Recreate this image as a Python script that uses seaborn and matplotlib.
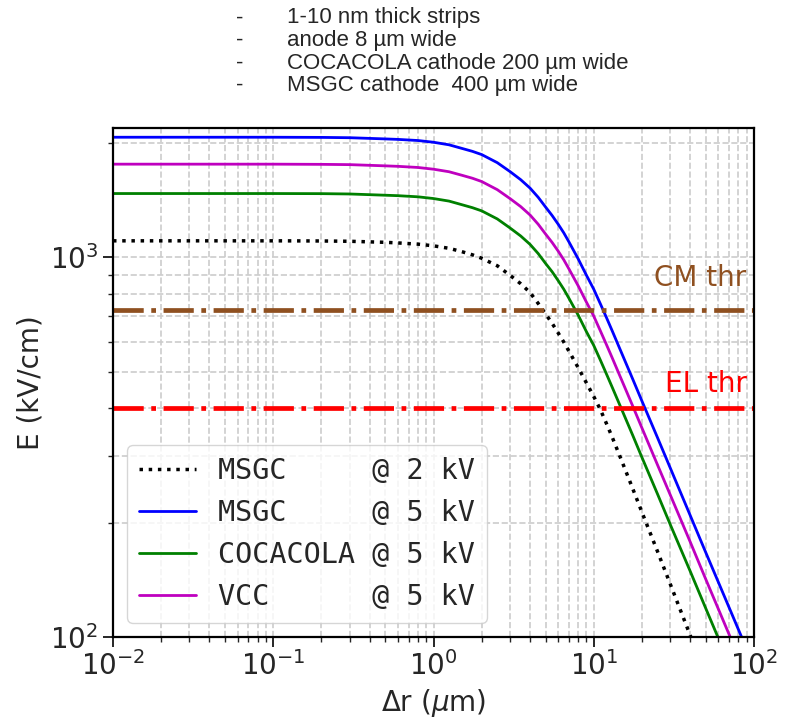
import matplotlib
matplotlib.use("Agg")
import matplotlib.pyplot as plt
import seaborn as sns
import pandas as pd

# ---- data ----
dr_um = [0.01, 0.1, 0.2, 0.3, 0.5, 0.6, 0.8, 1, 1.25, 1.5, 1.75, 2, 2.5, 3, 3.5, 4, 4.5, 5,
         5.5, 6, 6.5, 7, 8, 9, 10, 11, 12, 13, 15, 17.5, 20, 25, 30, 40, 50, 70, 100]
E_msgc_2kv = [1105, 1105, 1104, 1102, 1095, 1091, 1083, 1072, 1056, 1035, 1015, 994, 950, 897, 852,
              808, 756, 710, 670, 632, 598, 566, 512, 467, 430, 397, 365, 337, 290, 246, 213, 168,
              138, 101, 80, 56, 38]
E_msgc_5kv = [2071, 2071, 2069, 2065, 2050, 2044, 2030, 2009, 1978, 1936, 1901, 1864, 1775, 1682,
              1601, 1522, 1439, 1357, 1288, 1222, 1160, 1098, 990, 897, 824, 754, 694, 642, 557,
              478, 418, 335, 279, 209, 167, 119.5, 83.7]
E_cocacola_5kv = [1472, 1472, 1471, 1468, 1457, 1453, 1443, 1428, 1406, 1376, 1351, 1325, 1262,
                  1195, 1138, 1082, 1023, 964, 916, 868, 824, 780, 704, 637, 586, 536, 493, 456,
                  396, 340, 297, 238, 198, 149, 119, 85, 59.5]
E_vcc_5kv = [1759, 1759, 1757, 1754, 1741, 1736, 1724, 1706, 1680, 1645, 1615, 1583, 1507, 1428,
             1360, 1293, 1222, 1152, 1094, 1038, 985, 932, 841, 762, 700, 640, 589, 545, 473, 406,
             355, 284, 237, 178, 142, 101.5, 71]

series_labels = ["MSGC     @ 2 kV", "MSGC     @ 5 kV", "COCACOLA @ 5 kV", "VCC      @ 5 kV"]
series_colors = ["black", "b", "g", "m"]
series_styles = [":", "-", "-", "-"]
series_widths = [2.5, 2.0, 2.0, 2.0]

CM_thr = 725
EL_thr = 400
thr_labels = ["CM thr", "EL thr"]

notes = ["1-10 nm thick strips", "anode 8 µm wide",
         "COCACOLA cathode 200 µm wide", "MSGC cathode  400 µm wide"]

# ---- figure ----
sns.set_style("white")
plt.rcParams['font.family'] = ['DejaVu Sans']

fig = plt.figure(figsize=(7.92, 7.18), dpi=100)
ax = fig.add_axes([0.1427, 0.1128, 0.8093, 0.7089])

all_E = [E_msgc_2kv, E_msgc_5kv, E_cocacola_5kv, E_vcc_5kv]
for E, lab, c, ls, lw in zip(all_E, series_labels, series_colors, series_styles, series_widths):
    df = pd.DataFrame({"dr": dr_um, "E": E})
    sns.lineplot(data=df, x="dr", y="E", ax=ax, color=c, linestyle=ls, linewidth=lw,
                 label=lab, estimator=None, sort=True)

ax.axhline(CM_thr, color="#8f5020", linestyle="-.", linewidth=3.4)
ax.axhline(EL_thr, color="r", linestyle="-.", linewidth=3.4)

ax.set_xscale("log")
ax.set_yscale("log")
ax.set_xlim(1e-2, 1e2)
ax.set_ylim(100, 2190)

ax.text(90, 841, thr_labels[0], color="#8f5020", fontsize=20, ha="right", va="baseline")
ax.text(90, 443, thr_labels[1], color="r", fontsize=20, ha="right", va="baseline")

ax.grid(True, which="both", linestyle="--", color="#cccccc", linewidth=1.2)
ax.set_axisbelow(True)
for s in ax.spines.values():
    s.set_visible(True)
    s.set_color("black")
    s.set_linewidth(1.6)

ax.tick_params(axis="both", which="major", labelsize=20, length=7, width=1.4,
               direction="out", bottom=True, left=True)
ax.tick_params(axis="both", which="minor", length=3.5, width=1.0,
               direction="out", bottom=True, left=True)
ax.yaxis.set_minor_formatter(matplotlib.ticker.NullFormatter())

ax.set_xlabel("Δr ($\\mu$m)", fontsize=20)
ax.set_ylabel("E (kV/cm)", fontsize=20)

leg = ax.legend(loc="lower left", prop={"family": "DejaVu Sans Mono", "size": 20.5},
                frameon=True, fancybox=True, framealpha=0.8, edgecolor="#cccccc")

for i, t in enumerate(notes):
    y = 1 - (18 + 22.5 * i) / 718
    fig.text(236 / 792, y, "-", fontsize=16, family="Liberation Sans", va="center", ha="left")
    fig.text(287 / 792, y, t, fontsize=16, family="Liberation Sans", va="center", ha="left")

fig.savefig("out.png", dpi=100)
